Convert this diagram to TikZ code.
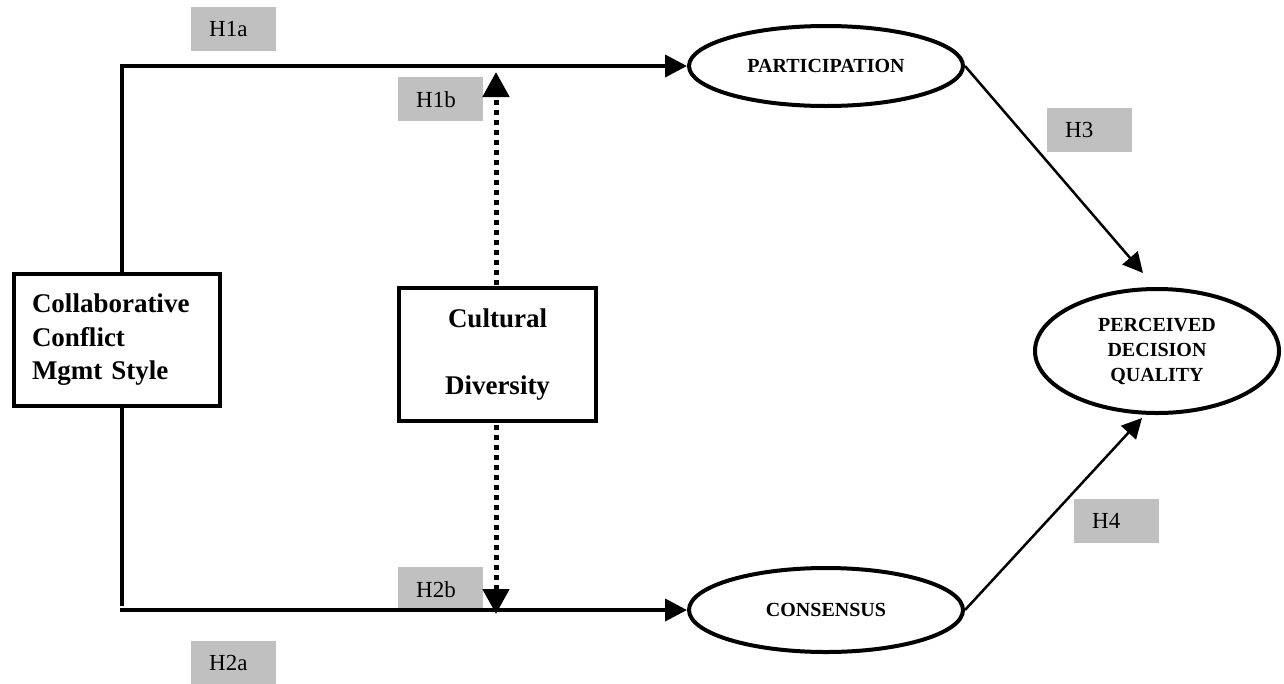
\documentclass[tikz,border=0pt]{standalone}
\usepackage{fontspec}
\setmainfont{Liberation Serif}
\usetikzlibrary{arrows.meta,shapes.geometric}
\definecolor{lblgray}{HTML}{C0C0C0}
\begin{document}
\begin{tikzpicture}[x=1pt,y=-1pt,
  boxnode/.style={draw, line width=4.5pt, inner sep=0pt, font=\bfseries\fontsize{27}{33.5}\selectfont},
  ellnode/.style={draw, ellipse, line width=4pt, inner sep=0pt, align=center, font=\bfseries\fontsize{20}{25}\selectfont},
  hlabel/.style={fill=lblgray, inner sep=0pt, minimum width=85pt, minimum height=44pt, text width=85pt, align=left, anchor=north west, font=\fontsize{23}{27}\selectfont},
  mainline/.style={line width=4pt},
  mainarrow/.style={mainline, -{Triangle[length=22pt,width=22pt]}},
  diagarrow/.style={line width=2.5pt, -{Triangle[length=20pt,width=20pt]}},
  dotline/.style={line width=5pt, dash pattern=on 5pt off 5pt, -{Triangle[length=25pt,width=26pt]}}
]
\useasboundingbox (0,0) rectangle (1284,683);

% boxes
\node[boxnode, minimum width=206pt, minimum height=132pt, text width=170pt, inner xsep=18pt, align=left] (ccm) at (117,340) {Collaborative\\Conflict\\Mgmt Style};
\node[boxnode, minimum width=197pt, minimum height=133pt, align=center] (cd) at (497.5,354.5) {Cultural\\[34pt]Diversity};

% ellipses
\node[ellnode, minimum width=274pt, minimum height=80pt] (part) at (826,66) {PARTICIPATION};
\node[ellnode, minimum width=274pt, minimum height=84pt] (cons) at (826,610) {CONSENSUS};
\node[ellnode, minimum width=244pt, minimum height=124pt] (pdq) at (1157,351) {PERCEIVED\\DECISION\\QUALITY};

% labels
\node[hlabel] (h1a) at (191,7) {\hspace*{18pt}H1a};
\node[hlabel] (h1b) at (398,77) {\hspace*{18pt}H1b};
\node[hlabel] (h2b) at (398,567) {\hspace*{18pt}H2b};
\node[hlabel] (h2a) at (191,641) {\hspace*{18pt}H2a};
\node[hlabel] (h3) at (1047,108) {\hspace*{18pt}H3};
\node[hlabel] (h4) at (1074,499) {\hspace*{18pt}H4};

% coordinates
\coordinate (ccmtop) at (122,272);
\coordinate (ccmbot) at (122,408);
\coordinate (bend) at (122,606);
\coordinate (hstart) at (120,610);
\coordinate (cdtop) at (496,285);
\coordinate (cdbot) at (496,425);
\coordinate (h1btip) at (496,72);
\coordinate (h2btip) at (496,614);
\coordinate (h3tip) at (1143,273);
\coordinate (h4tip) at (1142,418);

% connectors
\draw[mainarrow] (ccmtop) |- (part.west);
\draw[mainline] (ccmbot) -- (bend);
\draw[mainarrow] (hstart) -- (cons.west);
\draw[dotline] (cdtop) -- (h1btip);
\draw[dotline] (cdbot) -- (h2btip);
\draw[diagarrow] (part.east) -- (h3tip);
\draw[diagarrow] (cons.east) -- (h4tip);
\end{tikzpicture}
\end{document}
